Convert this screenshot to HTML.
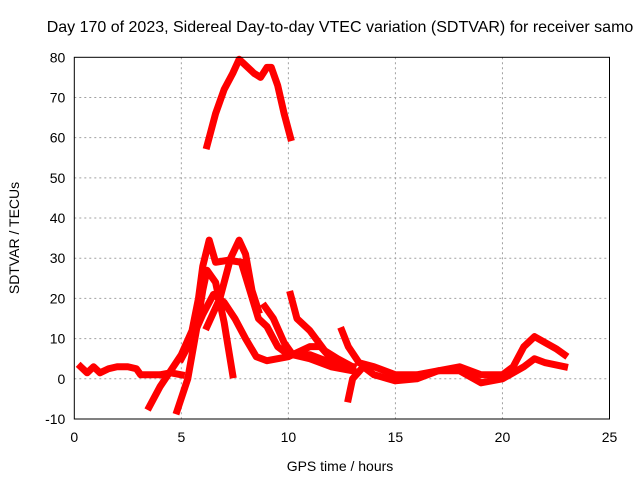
<!DOCTYPE html>
<html><head><meta charset="utf-8"><style>
body{margin:0;background:#fff;}
svg{display:block;font-family:"Liberation Sans",sans-serif;}
</style></head><body>
<svg id="chart" width="640" height="480">
<rect width="640" height="480" fill="#fff"/>
<text x="340" y="32" font-size="16" text-anchor="middle" fill="#000">Day 170 of 2023, Sidereal Day-to-day VTEC variation (SDTVAR) for receiver samo</text>
<text x="340" y="471" font-size="14" text-anchor="middle">GPS time / hours</text>
<text transform="translate(19,238) rotate(-90)" font-size="14" text-anchor="middle">SDTVAR / TECUs</text>
<g id="grid"></g><g id="ticks"></g><g id="series"></g>
<rect x="74.3" y="57.3" width="535.2" height="361.7" fill="none" stroke="#000" stroke-width="1"/>
</svg>
<script>
const xTicks=[0,5,10,15,20,25];
const yTicks=[-10,0,10,20,30,40,50,60,70,80];
const s1=[[6.2,58],[6.6,66],[7,72],[7.4,76],[7.7,79.5],[8,78],[8.4,76],[8.7,75],[9,77.5],[9.2,77.5],[9.5,73],[9.8,66],[10.1,60]];
const s2=[[0.3,3],[0.6,1.5],[0.9,3],[1.2,1.5],[1.6,2.5],[2,3],[2.5,3],[2.9,2.5],[3.1,1],[3.5,1],[4,1],[4.5,1.5],[5,1]];
const s3=[[3.5,-7],[4,-2],[4.5,2],[5,6],[5.5,12],[5.8,20],[6,28],[6.3,34.5],[6.6,29],[7.2,29.5],[7.8,29],[8.2,22],[8.6,15],[9,13],[9.5,8],[10,6],[11,6],[12,4],[12.6,3],[13,3]];
const s4=[[4.8,-8],[5.3,0],[5.7,12],[6,22],[6.2,27],[6.6,24],[7,14],[7.4,1]];
const s5=[[5,5],[5.5,10],[6,16],[6.5,21],[7,19],[7.5,15],[8,10],[8.5,5.5],[9,4.5],[10,5.5],[11,8],[11.5,8],[12,5]];
const s6=[[6.2,13],[6.8,20],[7.3,30],[7.7,34.5],[8,31],[8.3,22],[8.6,17]];
const s7=[[8.9,18],[9.3,15],[9.8,9],[10.2,6],[11,5],[12,3],[13,2]];
const s8=[[10.1,21],[10.4,15],[11,12],[11.7,7],[12.3,5],[13,3]];
const s9=[[12.5,12],[12.8,8],[13.3,4],[14,3],[15,1],[16,1],[17,2],[18,3],[19,1],[20,1],[20.5,3],[21,8],[21.5,10.5],[22,9],[22.5,7.5],[22.9,6]];
const s10=[[12.8,-5],[13,0],[13.5,3],[14,1],[15,-0.5],[16,0],[17,2],[18,2],[19,-1],[20,0],[21,3],[21.5,5],[22,4],[22.9,3]];
const allSeries=[s1,s2,s3,s4,s5,s6,s7,s8,s9,s10];
const L=74.3,R=609.5,T=57.3,B=419;
const xs=v=>L+(v-0)/(25-0)*(R-L);
const ys=v=>B-(v+10)/90*(B-T);
const NS="http://www.w3.org/2000/svg";
const g=document.getElementById('grid'),tk=document.getElementById('ticks'),sg=document.getElementById('series');
function mk(t,a,p){const e=document.createElementNS(NS,t);for(const k in a)e.setAttribute(k,a[k]);p.appendChild(e);return e;}
xTicks.forEach(v=>{const x=xs(v);
 if(v>0&&v<25){const l=mk('line',{x1:x,x2:x,y1:T,y2:B,stroke:'#a0a0a0','stroke-dasharray':'2,3'},g);
 }
 const t=mk('text',{x:x,y:B+23,'font-size':14,'text-anchor':'middle'},tk);t.textContent=v;
 });
yTicks.forEach(v=>{const y=ys(v);
 if(v>-10&&v<80){const l=mk('line',{x1:L,x2:R,y1:y,y2:y,stroke:'#a0a0a0','stroke-dasharray':'2,3'},g);
 }
 const t=mk('text',{x:L-9,y:y+5,'font-size':14,'text-anchor':'end'},tk);t.textContent=v;
 });
allSeries.forEach((s,i)=>{const p=mk('polyline',{points:s.map(d=>xs(d[0])+','+ys(d[1])).join(' '),fill:'none',stroke:'#ff0000','stroke-width':7,'stroke-linejoin':'round','stroke-linecap':'square'},sg);
 
 });
</script>
</body></html>
